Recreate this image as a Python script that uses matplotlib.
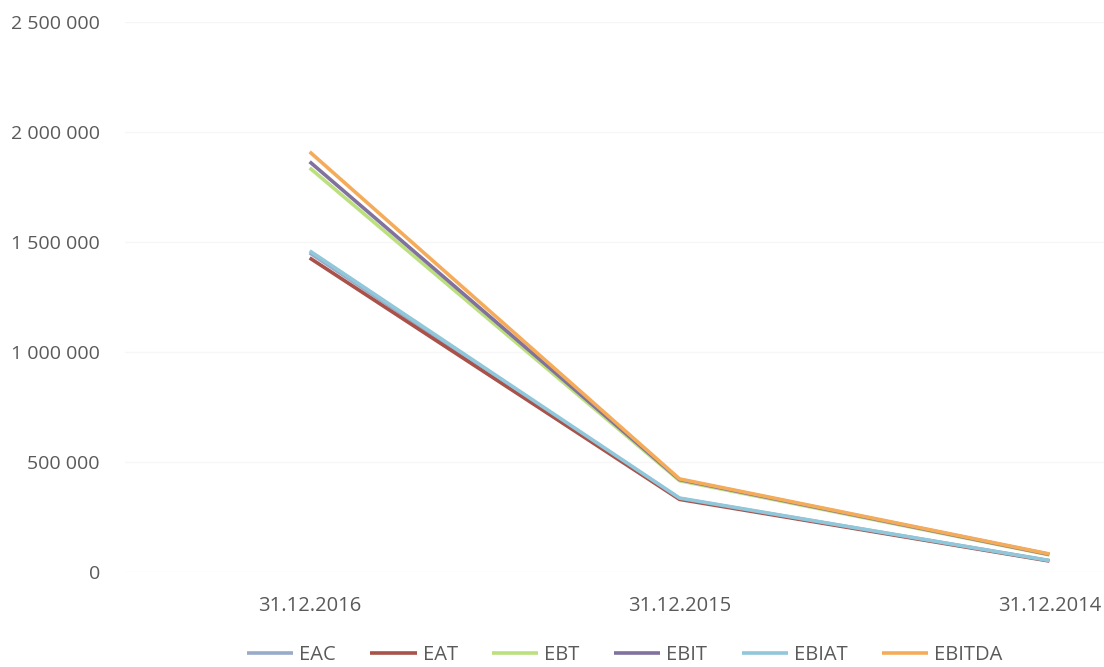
import matplotlib

matplotlib.use("Agg")
import matplotlib.pyplot as plt
from matplotlib.ticker import FuncFormatter

# ----- data ----------------------------------------------------------------
dates = ["31.12.2016", "31.12.2015", "31.12.2014"]
eac = [1450000, 334000, 52000]
eat = [1427000, 330000, 50000]
ebt = [1836000, 415000, 78000]
ebit = [1864000, 420000, 80000]
ebiat = [1459000, 336000, 52000]
ebitda = [1909000, 423000, 82000]

series = [
    ("EAC", eac, "#98abc9"),
    ("EAT", eat, "#a8524a"),
    ("EBT", ebt, "#bde07e"),
    ("EBIT", ebit, "#80719e"),
    ("EBIAT", ebiat, "#90c7da"),
    ("EBITDA", ebitda, "#f5ac5a"),
]

plt.rcParams["font.family"] = ["Open Sans", "DejaVu Sans"]

fig = plt.figure(figsize=(11.04, 6.67), dpi=100)
ax = fig.add_axes([0.113, 0.1424, 1.005, 0.825])

x = range(len(dates))
for name, vals, color in series:
    ax.plot(x, vals, color=color, linewidth=2.6, label=name, solid_capstyle="butt")

ax.set_xlim(-0.5, 2.5)
ax.set_ylim(0, 2500000)
ax.set_yticks(range(0, 2500001, 500000))
ax.yaxis.set_major_formatter(FuncFormatter(lambda v, _: f"{int(v):,}".replace(",", " ")))
ax.set_xticks(list(x))
ax.set_xticklabels(dates)

ax.grid(axis="y", color="#f6f6f6", linewidth=1)
ax.set_axisbelow(True)
for s in ax.spines.values():
    s.set_visible(False)
ax.tick_params(axis="y", length=0, labelsize=14, colors="#5a5a5a", pad=18)
ax.tick_params(axis="x", length=0, labelsize=14.5, colors="#5a5a5a", pad=17)

fig.legend(loc="center", bbox_to_anchor=(0.566, 0.018), ncol=6, frameon=False,
           fontsize=14.5, handlelength=2.3, handletextpad=0.3, columnspacing=1.7,
           labelcolor="#5a5a5a")

plt.savefig("out.png", dpi=100)
plt.close()
